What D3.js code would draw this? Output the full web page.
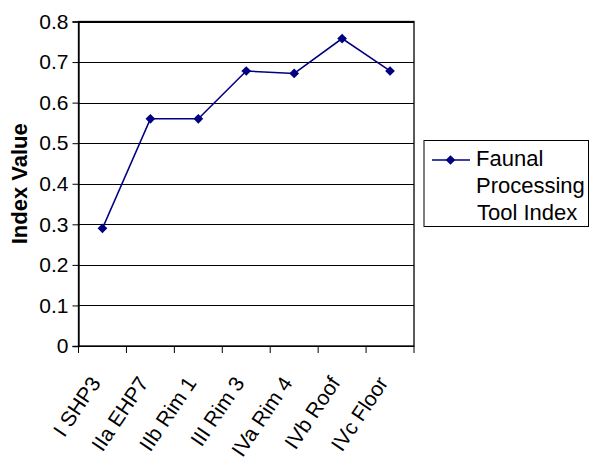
<!DOCTYPE html>
<html><head><meta charset="utf-8">
<script src="https://cdn.jsdelivr.net/npm/d3@7"></script>
<style>body{margin:0;background:#fff}svg{display:block;font-family:"Liberation Sans",Arial,sans-serif}</style>
</head><body><svg id="c" width="590" height="461"></svg>
<script>
const categories = ["I SHP3","IIa EHP7","IIb Rim 1","III Rim 3","IVa Rim 4","IVb Roof","IVc Floor"];
const values = [0.29, 0.56, 0.56, 0.678, 0.672, 0.758, 0.678];
const yTicks = [0,0.1,0.2,0.3,0.4,0.5,0.6,0.7,0.8];
const seriesName = ["Faunal","Processing","Tool Index"];

const svg = d3.select("#c");
const L=78.5, R=414, T=21.5, B=346;
const x = d3.scaleBand().domain(categories).range([L,R]).paddingInner(0).paddingOuter(0);
const y = d3.scaleLinear().domain([0,0.8]).range([B,T]);
const color = "#000080";

// gridlines
svg.append("g").selectAll("line").data(yTicks).join("line")
  .attr("x1",L).attr("x2",R).attr("y1",d=>Math.round(y(d))+0.5).attr("y2",d=>Math.round(y(d))+0.5)
  .attr("stroke","#000").attr("stroke-width",1);
// plot border
svg.append("rect").attr("x",L).attr("y",T).attr("width",R-L).attr("height",B-T)
  .attr("fill","none").attr("stroke","#000").attr("stroke-width",1.3);

// y axis
const ya = svg.append("g").attr("transform",`translate(${L},0)`)
  .call(d3.axisLeft(y).tickValues(yTicks).tickSize(6).tickPadding(4).tickFormat(d=>d===0?"0":d3.format(".1f")(d)));
ya.select(".domain").attr("stroke","#000").attr("stroke-width",1.3);
ya.selectAll("text").attr("font-size",21).attr("fill","#000").attr("font-family","Liberation Sans, Arial, sans-serif");
ya.selectAll(".tick line").attr("stroke","#000");

// x boundary ticks
const bounds = categories.map(c=>x(c)).concat([x(categories[categories.length-1])+x.bandwidth()]);
svg.append("g").selectAll("line").data(bounds).join("line")
  .attr("x1",d=>d).attr("x2",d=>d).attr("y1",B).attr("y2",B+7).attr("stroke","#000").attr("stroke-width",1);
// x labels
const xa = svg.append("g").attr("transform",`translate(0,${B})`)
  .call(d3.axisBottom(x).tickSize(0).tickPadding(0));
xa.select(".domain").remove();
xa.selectAll("text").attr("font-size",21).attr("fill","#000")
  .attr("font-family","Liberation Sans, Arial, sans-serif")
  .attr("text-anchor","end").attr("dy",0).attr("y",0)
  .attr("transform","translate(-1,37) rotate(-56)");

// y title
svg.append("text").attr("transform",`translate(27,${(T+B)/2}) rotate(-90)`)
  .attr("text-anchor","middle").attr("font-size",22).attr("font-weight","bold").text("Index Value");

// line + markers
const cx = d => x(d)+x.bandwidth()/2;
const pts = categories.map((c,i)=>[cx(c), y(values[i])]);
svg.append("path").attr("d",d3.line()(pts)).attr("fill","none").attr("stroke",color).attr("stroke-width",1.5);
const diamond = d3.symbol().type(d3.symbolDiamond2).size(60);
svg.append("g").selectAll("path").data(pts).join("path")
  .attr("transform",d=>`translate(${d[0]},${d[1]})`).attr("d",diamond).attr("fill",color);

// legend
const lg = svg.append("g");
lg.append("rect").attr("x",424).attr("y",140.5).attr("width",164.5).attr("height",86).attr("fill","#fff").attr("stroke","#000").attr("stroke-width",1);
lg.append("line").attr("x1",432).attr("x2",470).attr("y1",160).attr("y2",160).attr("stroke",color).attr("stroke-width",1.5);
lg.append("path").attr("transform","translate(450.5,160)").attr("d",diamond).attr("fill",color);
lg.selectAll("text.l").data(seriesName).join("text").attr("class","l")
  .attr("x",(d,i)=>i===2?477:476).attr("y",(d,i)=>166+i*27).attr("font-size",22).attr("fill","#000").text(d=>d);
</script></body></html>
